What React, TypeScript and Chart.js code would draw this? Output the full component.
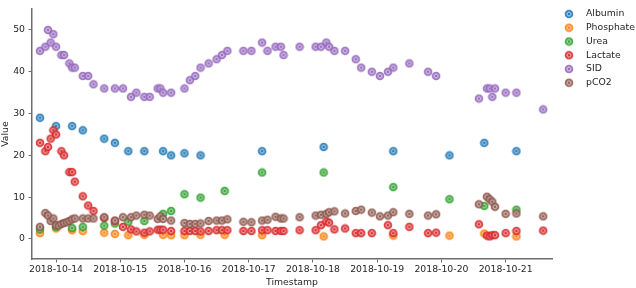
import React, { useEffect, useRef } from 'react';
import { Chart, registerables } from 'chart.js';

Chart.register(...registerables);

// ---------------- data ----------------
const seriesNames = ['Albumin', 'Phosphate', 'Urea', 'Lactate', 'SID', 'pCO2'];
const seriesColors = ['#1f77b4', '#ff7f0e', '#2ca02c', '#d62728', '#9467bd', '#8c564b'];

const xTickLabels = ['2018-10-14', '2018-10-15', '2018-10-16', '2018-10-17', '2018-10-18', '2018-10-19', '2018-10-20', '2018-10-21'];
const yTickValues = [0, 10, 20, 30, 40, 50];

const albuminTimes = [
  '2018-10-13 18:00', '2018-10-14 00:00', '2018-10-14 06:00', '2018-10-14 10:00', '2018-10-14 18:00', '2018-10-14 22:00',
  '2018-10-15 03:00', '2018-10-15 09:00', '2018-10-15 16:00', '2018-10-15 19:00', '2018-10-16 00:00', '2018-10-16 06:00',
  '2018-10-17 05:00', '2018-10-18 04:00', '2018-10-19 06:00', '2018-10-20 03:00', '2018-10-20 16:00', '2018-10-21 04:00',
];
const albuminValues = [29, 27, 27, 26, 24, 23, 21, 21, 21, 20, 20.5, 20, 21, 22, 21, 20, 23, 21];

const labTimes = [
  '2018-10-13 18:00', '2018-10-14 00:00', '2018-10-14 06:00', '2018-10-14 10:00', '2018-10-14 18:00', '2018-10-14 22:00',
  '2018-10-15 03:00', '2018-10-15 09:00', '2018-10-15 16:00', '2018-10-15 19:00', '2018-10-16 00:00', '2018-10-16 06:00',
  '2018-10-16 15:00', '2018-10-17 05:00', '2018-10-18 04:00', '2018-10-19 06:00', '2018-10-20 03:00', '2018-10-20 16:00',
  '2018-10-21 04:00',
];
const phosphateValues = [1.4, 2.5, 2.1, 1.9, 1.5, 1.2, 0.9, 1.0, 1.0, 0.9, 0.9, 1.0, 1.0, 0.9, 0.6, 0.8, 0.8, 1.3, 0.6];
const ureaValues = [2.3, 2.9, 2.6, 2.9, 3.2, 3.7, 4.1, 4.3, 6.0, 6.7, 10.7, 9.9, 11.5, 15.9, 15.9, 12.4, 9.5, 7.9, 7.0];

const lactateTimes = [
  '2018-10-13 18:00', '2018-10-13 20:00', '2018-10-13 21:00', '2018-10-13 22:00', '2018-10-13 23:00', '2018-10-14 00:00',
  '2018-10-14 02:00', '2018-10-14 03:00', '2018-10-14 05:00', '2018-10-14 06:00', '2018-10-14 07:00', '2018-10-14 10:00',
  '2018-10-14 12:00', '2018-10-14 14:00', '2018-10-14 18:00', '2018-10-14 22:00', '2018-10-15 01:00', '2018-10-15 04:00',
  '2018-10-15 06:00', '2018-10-15 09:00', '2018-10-15 11:00', '2018-10-15 14:00', '2018-10-15 15:00', '2018-10-15 16:00',
  '2018-10-15 19:00', '2018-10-16 00:00', '2018-10-16 02:00', '2018-10-16 04:00', '2018-10-16 06:00', '2018-10-16 09:00',
  '2018-10-16 12:00', '2018-10-16 14:00', '2018-10-16 16:00', '2018-10-16 22:00', '2018-10-17 01:00', '2018-10-17 05:00',
  '2018-10-17 07:00', '2018-10-17 10:00', '2018-10-17 12:00', '2018-10-17 13:00', '2018-10-17 19:00', '2018-10-18 01:00',
  '2018-10-18 03:00', '2018-10-18 05:00', '2018-10-18 06:00', '2018-10-18 08:00', '2018-10-18 12:00', '2018-10-18 16:00',
  '2018-10-18 18:00', '2018-10-18 22:00', '2018-10-19 04:00', '2018-10-19 06:00', '2018-10-19 12:00', '2018-10-19 19:00',
  '2018-10-19 22:00', '2018-10-20 14:00', '2018-10-20 17:00', '2018-10-20 18:00', '2018-10-20 19:00', '2018-10-20 20:00',
  '2018-10-21 00:00', '2018-10-21 04:00', '2018-10-21 14:00',
];
const lactateValues = [
  23, 21, 22, 24, 26, 25,
  21, 20, 16, 16, 13.7, 10.2,
  8, 6.7, 5, 4.3, 2.9, 2.3,
  1.8, 1.5, 1.8, 2.2, 2.2, 2.2,
  1.9, 1.9, 1.9, 1.9, 1.8, 1.9,
  2.1, 2.1, 2.1, 1.9, 1.9, 2.1,
  2.1, 1.9, 1.9, 1.9, 2.1, 2.1,
  3.3, 4.2, 3.9, 2.3, 2.5, 1.4,
  1.4, 1.4, 3.3, 1.4, 2.9, 1.4,
  1.5, 3.5, 0.8, 0.6, 0.9, 0.9,
  1.4, 1.9, 2.0,
];

const sidTimes = [
  '2018-10-13 18:00', '2018-10-13 20:00', '2018-10-13 21:00', '2018-10-13 22:00', '2018-10-13 23:00', '2018-10-14 00:00',
  '2018-10-14 02:00', '2018-10-14 03:00', '2018-10-14 05:00', '2018-10-14 06:00', '2018-10-14 07:00', '2018-10-14 10:00',
  '2018-10-14 12:00', '2018-10-14 14:00', '2018-10-14 18:00', '2018-10-14 22:00', '2018-10-15 01:00', '2018-10-15 04:00',
  '2018-10-15 06:00', '2018-10-15 09:00', '2018-10-15 11:00', '2018-10-15 14:00', '2018-10-15 15:00', '2018-10-15 16:00',
  '2018-10-15 19:00', '2018-10-16 00:00', '2018-10-16 02:00', '2018-10-16 04:00', '2018-10-16 06:00', '2018-10-16 09:00',
  '2018-10-16 12:00', '2018-10-16 14:00', '2018-10-16 16:00', '2018-10-16 22:00', '2018-10-17 01:00', '2018-10-17 05:00',
  '2018-10-17 07:00', '2018-10-17 10:00', '2018-10-17 12:00', '2018-10-17 13:00', '2018-10-17 19:00', '2018-10-18 01:00',
  '2018-10-18 03:00', '2018-10-18 05:00', '2018-10-18 06:00', '2018-10-18 08:00', '2018-10-18 12:00', '2018-10-18 16:00',
  '2018-10-18 18:00', '2018-10-18 22:00', '2018-10-19 01:00', '2018-10-19 04:00', '2018-10-19 06:00', '2018-10-19 12:00',
  '2018-10-19 19:00', '2018-10-19 22:00', '2018-10-20 14:00', '2018-10-20 17:00', '2018-10-20 18:00', '2018-10-20 19:00',
  '2018-10-20 20:00', '2018-10-21 00:00', '2018-10-21 04:00', '2018-10-21 14:00',
];
const sidValues = [
  45, 46, 50, 47, 49, 46,
  44, 44, 42, 41, 41, 39,
  39, 37, 36, 36, 36, 34,
  35, 34, 34, 36, 36, 35,
  35, 36, 38, 39, 41, 42,
  43, 44, 45, 45, 45, 47,
  45, 46, 46, 44, 46, 46,
  46, 47, 46, 45, 45, 43,
  41, 40, 39, 40, 41, 42,
  40, 39, 33.6, 36, 36, 34,
  36, 35, 35, 31,
];

const pco2Times = [
  '2018-10-13 18:00', '2018-10-13 20:00', '2018-10-13 21:00', '2018-10-13 22:00', '2018-10-13 23:00', '2018-10-14 00:00',
  '2018-10-14 01:00', '2018-10-14 02:00', '2018-10-14 03:00', '2018-10-14 04:00', '2018-10-14 05:00', '2018-10-14 06:00',
  '2018-10-14 07:00', '2018-10-14 10:00', '2018-10-14 12:00', '2018-10-14 14:00', '2018-10-14 18:00', '2018-10-14 22:00',
  '2018-10-15 01:00', '2018-10-15 04:00', '2018-10-15 06:00', '2018-10-15 09:00', '2018-10-15 11:00', '2018-10-15 14:00',
  '2018-10-15 15:00', '2018-10-15 16:00', '2018-10-15 19:00', '2018-10-16 00:00', '2018-10-16 02:00', '2018-10-16 04:00',
  '2018-10-16 06:00', '2018-10-16 09:00', '2018-10-16 12:00', '2018-10-16 14:00', '2018-10-16 16:00', '2018-10-16 22:00',
  '2018-10-17 01:00', '2018-10-17 05:00', '2018-10-17 07:00', '2018-10-17 10:00', '2018-10-17 12:00', '2018-10-17 13:00',
  '2018-10-17 19:00', '2018-10-18 01:00', '2018-10-18 03:00', '2018-10-18 05:00', '2018-10-18 06:00', '2018-10-18 08:00',
  '2018-10-18 12:00', '2018-10-18 16:00', '2018-10-18 18:00', '2018-10-18 22:00', '2018-10-19 01:00', '2018-10-19 04:00',
  '2018-10-19 06:00', '2018-10-19 12:00', '2018-10-19 19:00', '2018-10-19 22:00', '2018-10-20 14:00', '2018-10-20 17:00',
  '2018-10-20 18:00', '2018-10-20 19:00', '2018-10-20 20:00', '2018-10-21 00:00', '2018-10-21 04:00', '2018-10-21 14:00',
];
const pco2Values = [
  2.9, 6.2, 5.6, 4.3, 4.9, 3.3,
  3.2, 3.6, 3.8, 4.0, 4.3, 4.7,
  4.9, 4.9, 4.9, 4.9, 5.2, 4.4,
  5.2, 5.2, 5.6, 5.8, 5.6, 4.8,
  5.4, 4.8, 4.4, 3.8, 3.6, 3.6,
  3.7, 4.3, 4.4, 4.4, 4.7, 4.1,
  4.0, 4.4, 4.6, 5.3, 4.9, 4.9,
  5.2, 5.6, 5.8, 6.0, 6.4, 6.6,
  6.1, 6.7, 7.0, 6.3, 5.4, 5.6,
  6.4, 6.0, 5.6, 5.9, 8.3, 10.1,
  9.5, 8.9, 7.7, 6.0, 6.1, 5.4,
];

const seriesTimes = [albuminTimes, labTimes, labTimes, lactateTimes, sidTimes, pco2Times];
const seriesValues = [albuminValues, phosphateValues, ureaValues, lactateValues, sidValues, pco2Values];

// ---------------- helpers ----------------
const ORIGIN = Date.UTC(2018, 9, 14);
function toDays(ts: string): number {
  const [d, t = '00:00'] = ts.split(' ');
  const [y, m, day] = d.split('-').map(Number);
  const [hh, mm] = t.split(':').map(Number);
  return (Date.UTC(y, m - 1, day, hh, mm) - ORIGIN) / 86400000;
}

function makeMarker(color: string): HTMLCanvasElement {
  const c = document.createElement('canvas');
  c.width = 10;
  c.height = 10;
  const g = c.getContext('2d')!;
  g.globalAlpha = 0.88;
  g.fillStyle = color;
  g.beginPath();
  g.arc(5, 5, 4.3, 0, Math.PI * 2);
  g.fill();
  g.globalAlpha = 0.45;
  g.fillStyle = '#ffffff';
  g.beginPath();
  g.arc(5, 5, 2.5, 0, Math.PI * 2);
  g.fill();
  g.globalAlpha = 0.9;
  g.strokeStyle = color;
  g.lineWidth = 1;
  g.beginPath();
  g.moveTo(3.7, 3.7);
  g.lineTo(6.3, 6.3);
  g.moveTo(6.3, 3.7);
  g.lineTo(3.7, 6.3);
  g.stroke();
  return c;
}

const FONT_FAMILY = '"DejaVu Sans", sans-serif';
const FONT_SIZE = 9.3;
const TEXT_COLOR = '#262626';
const SPINE_COLOR = '#6e6e6e';

export default function App() {
  const ref = useRef<HTMLCanvasElement | null>(null);

  useEffect(() => {
    document.body.style.margin = '0';
    const canvas = ref.current;
    if (!canvas) return;
    const markers = seriesColors.map(makeMarker);

    const datasets = seriesNames.map((name, i) => ({
      label: name,
      data: seriesTimes[i].map((t, j) => ({ x: toDays(t), y: seriesValues[i][j] })),
      pointStyle: markers[i] as any,
      pointRadius: 4,
      showLine: false,
      order: seriesNames.length - i,
    }));

    const legendPlugin = {
      id: 'sideLegend',
      afterDraw(chart: any) {
        const ctx = chart.ctx as CanvasRenderingContext2D;
        ctx.save();
        ctx.font = `${FONT_SIZE}px ${FONT_FAMILY}`;
        ctx.fillStyle = TEXT_COLOR;
        ctx.textBaseline = 'middle';
        ctx.textAlign = 'left';
        seriesNames.forEach((n, i) => {
          const y = 14 + i * 13.75;
          ctx.drawImage(markers[i], 564, y - 5);
          ctx.fillText(n, 586, y);
        });
        ctx.restore();
      },
    };

    const font = { family: FONT_FAMILY, size: FONT_SIZE };

    const chart = new Chart(canvas, {
      type: 'scatter',
      data: { datasets: datasets as any },
      options: {
        animation: false,
        responsive: false,
        events: [],
        layout: { padding: { top: 2, right: 84, left: 0, bottom: 0 } },
        plugins: { legend: { display: false }, tooltip: { enabled: false } },
        scales: {
          x: {
            type: 'linear',
            min: -0.374,
            max: 7.721,
            afterFit: (s: any) => { s.height = 29; },
            afterBuildTicks: (s: any) => { s.ticks = xTickLabels.map((l) => ({ value: toDays(l) })); },
            ticks: {
              callback: (_v: any, idx: number) => xTickLabels[idx],
              font,
              color: TEXT_COLOR,
              padding: 1.5,
              maxRotation: 0,
              autoSkip: false,
            },
            grid: { display: true, drawOnChartArea: false, drawTicks: true, tickLength: 3.5, tickColor: SPINE_COLOR, tickWidth: 1 },
            border: { display: true, color: SPINE_COLOR, width: 1.5 },
            title: { display: true, text: 'Timestamp', font, color: TEXT_COLOR, padding: { top: 0, bottom: 0 } },
          },
          y: {
            type: 'linear',
            min: -4.8,
            max: 55,
            afterFit: (s: any) => { s.width = 32; },
            afterBuildTicks: (s: any) => { s.ticks = yTickValues.map((v) => ({ value: v })); },
            ticks: {
              callback: (v: any) => String(v),
              font,
              color: TEXT_COLOR,
              padding: 3.5,
            },
            grid: { display: true, drawOnChartArea: false, drawTicks: true, tickLength: 3.5, tickColor: SPINE_COLOR, tickWidth: 1 },
            border: { display: true, color: SPINE_COLOR, width: 1.5 },
            title: { display: true, text: 'Value', font, color: TEXT_COLOR, padding: { top: 0, bottom: 0 } },
          },
        },
      },
      plugins: [legendPlugin],
    });

    return () => chart.destroy();
  }, []);

  return (
    <div style={{ position: 'absolute', left: 0, top: 0, width: 636, height: 288 }}>
      <canvas ref={ref} width={636} height={288} style={{ display: 'block', width: 636, height: 288 }} />
    </div>
  );
}
